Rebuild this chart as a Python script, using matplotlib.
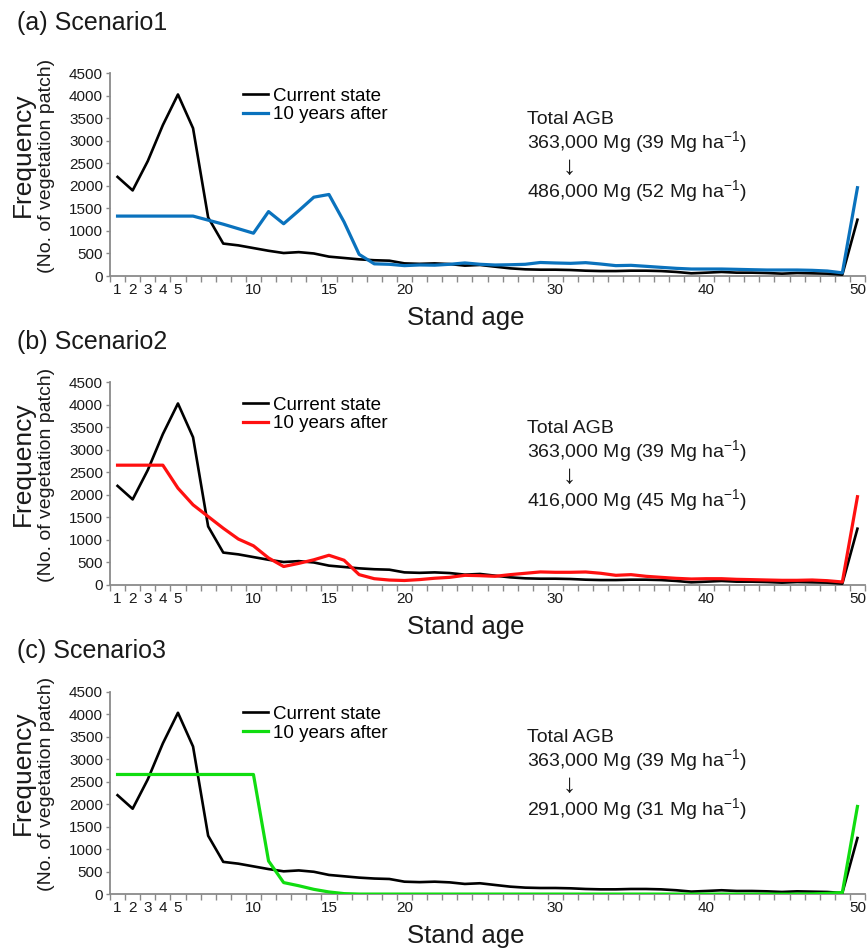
import numpy as np
import matplotlib
matplotlib.use("Agg")
import matplotlib.pyplot as plt

plt.rcParams['font.family'] = ['Liberation Sans', 'DejaVu Sans']
plt.rcParams['mathtext.fontset'] = 'custom'
plt.rcParams['mathtext.rm'] = 'Liberation Sans'
plt.rcParams['mathtext.it'] = 'Liberation Sans:italic'
plt.rcParams['mathtext.bf'] = 'Liberation Sans:bold'

# ---------------- data ----------------
ages = list(range(1, 51))

current_state = [2200, 1900, 2550, 3350, 4030, 3280, 1300, 720, 680, 620,
                 560, 510, 530, 500, 430, 400, 370, 350, 340, 280,
                 270, 280, 265, 230, 245, 207, 170, 148, 140, 140,
                 133, 118, 110, 110, 118, 118, 110, 90, 60, 74,
                 90, 74, 74, 66, 52, 66, 59, 52, 30, 1250]

scenario1 = [1330, 1330, 1330, 1330, 1330, 1330, 1240, 1150, 1050, 950,
             1430, 1160, 1450, 1750, 1810, 1200, 480, 270, 260, 230,
             245, 240, 260, 290, 260, 244, 250, 260, 300, 289,
             281, 296, 266, 230, 237, 215, 192, 170, 155, 155,
             155, 148, 140, 133, 133, 133, 126, 111, 70, 1960]

scenario2 = [2660, 2660, 2660, 2660, 2150, 1780, 1520, 1260, 1020, 870,
             600, 410, 480, 560, 660, 550, 230, 140, 110, 100,
             120, 150, 170, 215, 207, 193, 230, 260, 290, 282,
             282, 289, 260, 215, 230, 193, 170, 148, 133, 140,
             140, 126, 119, 111, 104, 104, 111, 96, 67, 1960]

scenario3 = [2660, 2660, 2660, 2660, 2660, 2660, 2660, 2660, 2660, 2660,
             740, 260, 190, 110, 52, 15, 5, 5, 5, 5,
             5, 5, 5, 5, 5, 5, 5, 5, 5, 5,
             5, 5, 5, 5, 5, 5, 5, 5, 5, 5,
             5, 5, 5, 5, 5, 5, 10, 20, 40, 1950]

panel_titles = ["(a) Scenario1", "(b) Scenario2", "(c) Scenario3"]
scenarios = [scenario1, scenario2, scenario3]
colors = ["#0a72bd", "#ff1010", "#10dd10"]
agb_before = "363,000 Mg (39 Mg ha$^{\\mathregular{-1}}$)"
agb_after = ["486,000 Mg (52 Mg ha$^{\\mathregular{-1}}$)",
             "416,000 Mg (45 Mg ha$^{\\mathregular{-1}}$)",
             "291,000 Mg (31 Mg ha$^{\\mathregular{-1}}$)"]
label_ticks = [1, 2, 3, 4, 5, 10, 15, 20, 30, 40, 50]
label_ticks_text = [str(v) for v in label_ticks]
yticks = list(range(0, 4501, 500))

# ---------------- layout ----------------
W, H = 868, 949
fig = plt.figure(figsize=(W / 100, H / 100), dpi=100)

ax_left = 110
ax_right = 865
ax_h = 202.7
bottoms_px = [276.0, 585.0, 894.3]    # y pixel of value 0
title_y = [23, 342, 651]

spine_col = "#8a8a8a"
txt_col = "#1a1a1a"

for i in range(3):
    b = bottoms_px[i]
    ax = fig.add_axes([ax_left / W, 1 - b / H, (ax_right - ax_left) / W, ax_h / H])
    ax.plot(ages, current_state, color="black", lw=1.9, label="Current state",
            solid_joinstyle="round", zorder=3)
    ax.plot(ages, scenarios[i], color=colors[i], lw=2.3, label="10 years after",
            solid_joinstyle="round", zorder=4)
    ax.set_xlim(0.5, 50.5)
    ax.set_ylim(0, 4500)
    ax.set_yticks(yticks)
    ax.set_yticklabels([str(v) for v in yticks])
    ax.set_xticks(np.arange(0.5, 51, 1.0))
    ax.set_xticklabels([])
    ax.set_xticks(label_ticks, minor=True)
    ax.set_xticklabels(label_ticks_text, minor=True)
    ax.tick_params(axis="x", which="major", length=4, width=1, color=spine_col,
                   direction="out")
    ax.tick_params(axis="x", which="minor", length=0, pad=5, labelsize=11,
                   labelcolor=txt_col)
    ax.tick_params(axis="y", which="major", length=3, width=1, color=spine_col,
                   direction="out", pad=2, labelsize=11, labelcolor=txt_col)
    for s in ["top", "right"]:
        ax.spines[s].set_visible(False)
    for s in ["left", "bottom"]:
        ax.spines[s].set_color(spine_col)
        ax.spines[s].set_linewidth(1.3)

    ax.legend(loc="upper left", bbox_to_anchor=((243 - ax_left) / (ax_right - ax_left), 0.93),
              frameon=False, fontsize=13.5, handlelength=1.33, handletextpad=0.25,
              labelspacing=0.08, borderpad=0, borderaxespad=0)

    # annotation texts
    xa = (527 - ax_left) / (ax_right - ax_left)
    ax.text(xa, (276.0 - 124) / ax_h, "Total AGB", transform=ax.transAxes,
            fontsize=14, va="baseline", ha="left", color=txt_col)
    ax.text(xa, (276.0 - 148) / ax_h, agb_before, transform=ax.transAxes,
            fontsize=14, va="baseline", ha="left", color=txt_col)
    ax.text((569 - ax_left) / (ax_right - ax_left), (276.0 - 167) / ax_h, "\u2193",
            transform=ax.transAxes, fontsize=19, va="center", ha="center", color=txt_col)
    ax.text(xa, (276.0 - 197) / ax_h, agb_after[i], transform=ax.transAxes,
            fontsize=14, va="baseline", ha="left", color=txt_col)

    # panel title
    fig.text(17 / W, 1 - title_y[i] / H, panel_titles[i], fontsize=18,
             ha="left", va="center", color=txt_col)
    # x label
    fig.text(466 / W, 1 - (b + 49) / H, "Stand age", fontsize=18.5,
             ha="center", va="baseline", color=txt_col)
    # y labels
    fig.text(23 / W, 1 - (b - 121.5) / H, "Frequency", fontsize=19, rotation=90,
             ha="center", va="center", color=txt_col)
    fig.text(47 / W, 1 - (b - 110.5) / H, "(No. of vegetation patch)", fontsize=14,
             rotation=90, ha="center", va="center", color=txt_col)

fig.savefig("out.png", dpi=100)
